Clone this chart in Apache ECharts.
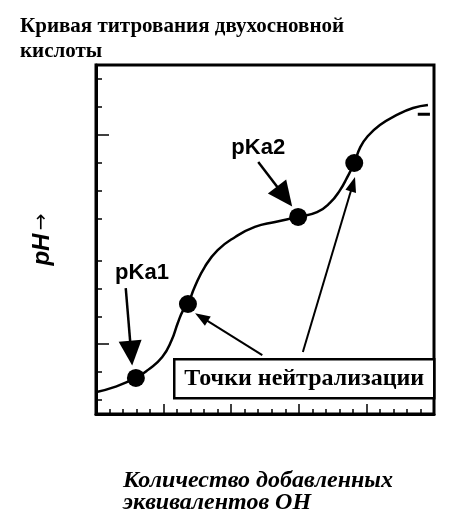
<!DOCTYPE html>
<html>
<head>
<meta charset="utf-8">
<script src="https://cdn.jsdelivr.net/npm/echarts@6/dist/echarts.min.js"></script>
<style>
html,body{margin:0;padding:0;background:#fff;}
#chart{width:449px;height:529px;}
</style>
</head>
<body>
<div id="chart"></div>
<script>
// Titration curve (x = equivalents of OH added, y = pH, arbitrary scale)
const curveX = [0.01,0.28,0.59,0.77,0.98,1.12,1.21,1.29,1.36,1.46,1.61,1.80,2.06,2.35,2.65,2.99,3.27,3.46,3.61,3.71,3.82,3.91,4.01,4.20,4.45,4.69,4.91];
const curveY = [0.79,0.97,1.29,1.58,2.04,2.65,3.26,3.72,3.94,4.55,5.27,5.87,6.34,6.70,6.88,7.06,7.23,7.56,8.02,8.45,8.99,9.56,9.92,10.35,10.71,10.96,11.07];
// Marked points (pKa1, 1st neutralization, pKa2, 2nd neutralization)
const dotX = [0.59,1.36,2.99,3.82];
const dotY = [1.29,3.94,7.06,8.99];
// Text labels
const pkaLabels = ['pKa1','pKa2'];
const pkaLabelX = [0.68,2.40];
const pkaLabelY = [5.05,9.53];
// pKa arrows: start and end
const pkaArrowFrom = [[0.44,4.51],[2.40,9.03]];
const pkaArrowTo = [[0.52,2.18],[2.79,7.79]];
// Neutralization arrows
const neutArrowFrom = [[2.46,2.11],[3.06,2.22]];
const neutArrowTo = [[1.56,3.47],[3.80,8.23]];
// Small dash near right edge
const dashX = [4.76,4.94];
const dashY = [10.74,10.74];
// Axis ticks
const yTicks = [0.5,1.5,2.5,3.5,4.5,5.5,7,8,9,10,11,12];
const yLongTicks = [2.5,10];
const xMin = 0, xMax = 5, xInterval = 1;
const yMin = 0, yMax = 12.5;

const titleText = 'Кривая титрования двухосновной\nкислоты';
const xName = 'Количество добавленных\nэквивалентов ОН';
const boxText = 'Точки нейтрализации';

const chart = echarts.init(document.getElementById('chart'), null, {renderer:'canvas'});

const pkaArrowData = pkaArrowFrom.map((f,i)=>[
  {coord:f, symbol:'none'},
  {coord:pkaArrowTo[i], symbol:'triangle', symbolSize:[23,25]}
]);
const neutArrowData = neutArrowFrom.map((f,i)=>[
  {coord:f, symbol:'none'},
  {coord:neutArrowTo[i], symbol:'triangle', symbolSize:[11,15]}
]);

const option = {
  animation:false,
  backgroundColor:'#fff',
  title:[
    {text:titleText, left:15, top:9,
     textStyle:{fontFamily:'Liberation Serif', fontWeight:'bold', fontSize:21, lineHeight:25, color:'#000'}},
    {text:xName, left:118, top:465,
     textStyle:{fontFamily:'Liberation Serif', fontWeight:'bold', fontStyle:'italic', fontSize:24, lineHeight:22, color:'#000'}}
  ],
  grid:{left:96, right:15, top:65, bottom:115, show:true, borderColor:'#000', borderWidth:3, backgroundColor:'#fff', containLabel:false, outerBoundsMode:'none'},
  xAxis:{type:'value', min:xMin, max:xMax, interval:xInterval,
    axisLine:{show:true, lineStyle:{color:'#000', width:3}},
    axisTick:{show:true, inside:true, length:10, lineStyle:{color:'#000', width:1.5}},
    minorTick:{show:true, splitNumber:5, length:5, lineStyle:{color:'#000', width:1.5}},
    axisLabel:{show:false}, splitLine:{show:false}},
  yAxis:[
    {type:'value', min:yMin, max:yMax,
     name:'{ph|pH} {ar|→}', nameLocation:'middle', nameRotate:90, nameGap:42,
     nameTextStyle:{rich:{
       ph:{fontFamily:'Liberation Sans', fontWeight:'bold', fontStyle:'italic', fontSize:24, color:'#000'},
       ar:{fontFamily:'DejaVu Sans', fontSize:20, color:'#000'}}},
     axisLine:{show:true, lineStyle:{color:'#000', width:3}},
     axisTick:{show:true, inside:true, length:6, customValues:yTicks, lineStyle:{color:'#000', width:1.5}},
     axisLabel:{show:false}, splitLine:{show:false}},
    {type:'value', min:yMin, max:yMax, position:'left',
     axisLine:{show:false},
     axisTick:{show:true, inside:true, length:13, customValues:yLongTicks, lineStyle:{color:'#000', width:1.5}},
     axisLabel:{show:false}, splitLine:{show:false}}
  ],
  graphic:[{
    type:'group', left:173, top:358,
    children:[
      {type:'rect', shape:{x:0, y:0, width:260, height:39}, style:{fill:'#fff', stroke:'#000', lineWidth:2.5}},
      {type:'text', x:130, y:20, style:{text:boxText, fill:'#000', font:'bold 24px "Liberation Serif"', textAlign:'center', textVerticalAlign:'middle'}}
    ]
  }],
  series:[
    {type:'line', data:curveX.map((x,i)=>[x,curveY[i]]), smooth:0.5, symbol:'none',
     lineStyle:{color:'#000', width:2.5}, silent:true,
     markLine:{silent:true, animation:false, label:{show:false}, lineStyle:{color:'#000', width:2.5, type:'solid', opacity:1},
       emphasis:{disabled:true}, data:pkaArrowData}},
    {type:'line', data:dashX.map((x,i)=>[x,dashY[i]]), symbol:'none', lineStyle:{color:'#000', width:3}, silent:true},
    {type:'scatter', data:dotX.map((x,i)=>[x,dotY[i]]), symbolSize:18, itemStyle:{color:'#000', opacity:1}, silent:true, z:3,
     markLine:{silent:true, animation:false, label:{show:false}, lineStyle:{color:'#000', width:2, type:'solid', opacity:1},
       emphasis:{disabled:true}, data:neutArrowData}},
    {type:'scatter', data:pkaLabels.map((t,i)=>[pkaLabelX[i], pkaLabelY[i], t]), symbolSize:0, itemStyle:{color:'#000', opacity:1}, silent:true,
     label:{show:true, position:'inside', formatter:p=>p.value[2], fontFamily:'Liberation Sans', fontWeight:'bold', fontSize:22, color:'#000', opacity:1}}
  ]
};
chart.setOption(option);
</script>
</body>
</html>
